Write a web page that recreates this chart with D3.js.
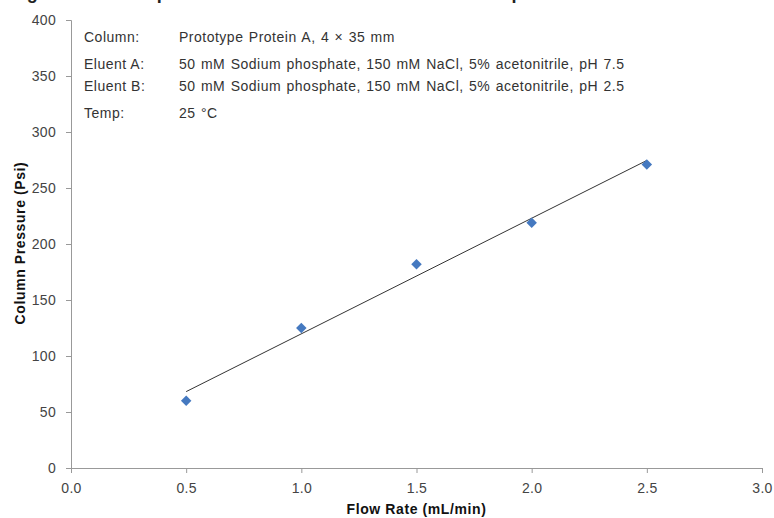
<!DOCTYPE html>
<html><head><meta charset="utf-8">
<script src="https://cdn.jsdelivr.net/npm/d3@7"></script>
<style>body{margin:0;background:#fff;} text{font-family:"Liberation Sans",Arial,sans-serif;}</style>
</head><body><svg id="c" width="774" height="518"></svg>
<script>
const flowRates = [0.5, 1.0, 1.5, 2.0, 2.5];
const pressures = [60, 125, 182, 219, 271];
const xTicks = [0, 0.5, 1.0, 1.5, 2.0, 2.5, 3.0];
const yTicks = [0, 50, 100, 150, 200, 250, 300, 350, 400];
const infoLabels = ["Column:", "Eluent A:", "Eluent B:", "Temp:"];
const infoValues = ["Prototype Protein A, 4 \u00d7 35 mm",
  "50 mM Sodium phosphate, 150 mM NaCl, 5% acetonitrile, pH 7.5",
  "50 mM Sodium phosphate, 150 mM NaCl, 5% acetonitrile, pH 2.5",
  "25 \u00b0C"];
const titleText = "Figure 8: Example of effect of flow rate on column pressure";

const svg = d3.select("#c");
const m = {l:71, r:12, t:20, b:50};
const W = 774, H = 518;
const x = d3.scaleLinear().domain([0,3]).range([m.l, W-m.r]);
const y = d3.scaleLinear().domain([0,400]).range([H-m.b, m.t]);

// title (cut off at the top edge, as in the source image)
svg.append("text").attr("x", 8).attr("y", -1).attr("font-weight","bold")
  .attr("font-size", 18).attr("letter-spacing", 1.4).attr("fill","#222").text(titleText);

const axisCol = "#999";
const xa = svg.append("g").attr("transform", `translate(0,${y(0)})`)
  .call(d3.axisBottom(x).tickValues(xTicks).tickFormat(d3.format(".1f")).tickSizeOuter(0).tickSize(5).tickPadding(10));
const ya = svg.append("g").attr("transform", `translate(${x(0)},0)`)
  .call(d3.axisLeft(y).tickValues(yTicks).tickSizeOuter(0).tickSize(5).tickPadding(10));
[xa, ya].forEach(g => {
  g.select(".domain").attr("stroke", axisCol);
  g.selectAll(".tick line").attr("stroke", axisCol);
  g.selectAll(".tick text").attr("fill","#444").attr("font-size", 14).attr("letter-spacing", 0.3)
    .attr("font-family","'Liberation Sans',Arial,sans-serif");
});

// info text
const rowsY = [37, 64, 86, 113];
infoLabels.forEach((t,i) => {
  svg.append("text").attr("x", 84).attr("y", rowsY[i]+5).attr("font-size",14).attr("letter-spacing",0.5)
    .attr("fill","#333").text(t);
  svg.append("text").attr("x", 179).attr("y", rowsY[i]+5).attr("font-size",14).attr("letter-spacing",0.5)
    .attr("word-spacing",1).attr("fill","#333").text(infoValues[i]);
});

// trendline (least squares)
const mx = d3.mean(flowRates), my = d3.mean(pressures);
const slope = d3.sum(flowRates, (v,i)=>(v-mx)*(pressures[i]-my)) / d3.sum(flowRates, v=>(v-mx)*(v-mx));
const icpt = my - slope*mx;
const x0 = d3.min(flowRates), x1 = d3.max(flowRates);
svg.append("line").attr("x1", x(x0)).attr("y1", y(icpt+slope*x0))
  .attr("x2", x(x1)).attr("y2", y(icpt+slope*x1)).attr("stroke","#333").attr("stroke-width",1);

// points
svg.selectAll("path.pt").data(flowRates).join("path").attr("class","pt")
  .attr("d", d3.symbol(d3.symbolDiamond2, 70)())
  .attr("transform", (d,i)=>`translate(${x(d)},${y(pressures[i])})`)
  .attr("fill", "#4579C0");

// axis titles
svg.append("text").attr("x", (x(0)+x(3))/2).attr("y", 514).attr("text-anchor","middle")
  .attr("font-weight","bold").attr("font-size",14).attr("letter-spacing",0.6).attr("fill","#111").text("Flow Rate (mL/min)");
svg.append("text").attr("transform", `translate(25,243) rotate(-90)`).attr("text-anchor","middle")
  .attr("font-weight","bold").attr("font-size",14).attr("letter-spacing",0.6).attr("fill","#111").text("Column Pressure (Psi)");
</script></body></html>
